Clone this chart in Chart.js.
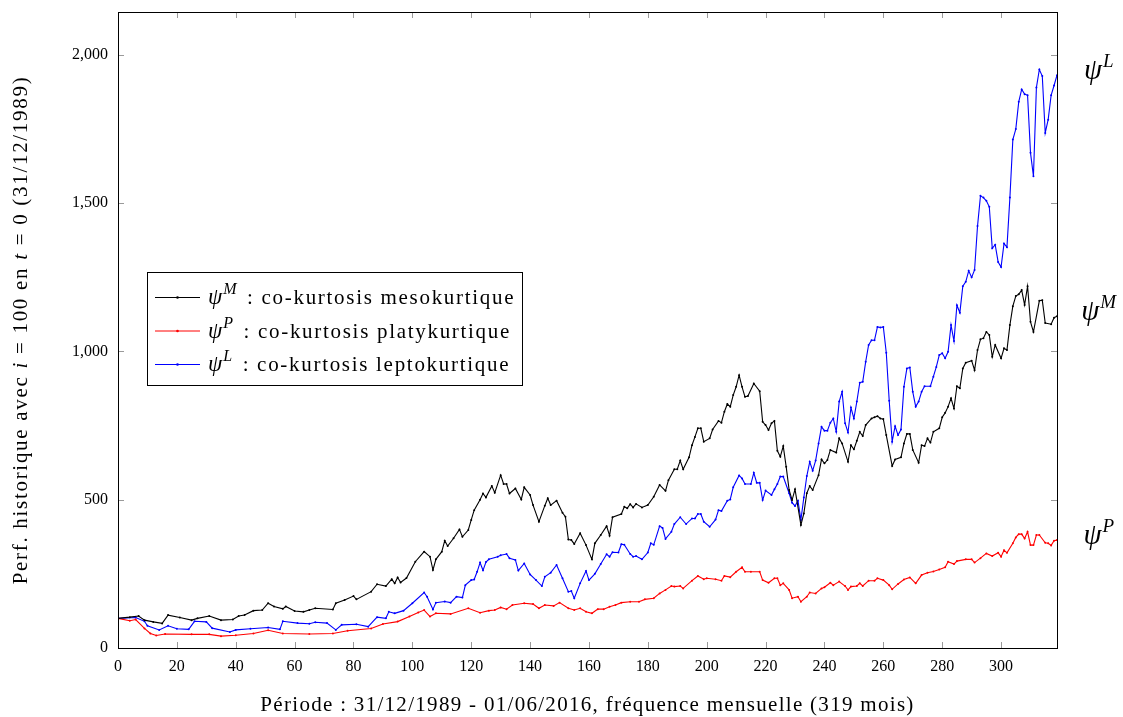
<!DOCTYPE html>
<html>
<head>
<meta charset="utf-8">
<script src="https://cdn.jsdelivr.net/npm/chart.js@4"></script>
<style>
  html, body { margin: 0; padding: 0; background: #fff; }
  #wrap { width: 1123px; height: 717px; }
</style>
</head>
<body>
<div id="wrap"><canvas id="perf"></canvas></div>
<script>
// 시리즈 데이터 (그림에서 읽은 값, 월 인덱스 / 성과 지수)
const mesoMonths = [0,4,7,9,12,15,17,21,25,27,31,35,39,41,43,46,49,51,53,56,57,60,63,65,67,73,74,77,80,81,86,88,91,93,94,95,96,98,101,104,106,107,108,110,111,112,114,116,117,119,120,121,123,124,125,127,128,130,131,132,133,135,137,138,140,141,143,145,146,147,149,151,152,153,154,155,157,159,161,162,164,166,167,168,171,172,173,174,175,176,178,180,182,184,186,187,189,190,191,192,194,195,196,197,198,199,201,202,204,205,206,207,208,209,210,211,212,213,214,216,218,219,220,221,222,223,224,225,226,227,228,229,230,232,233,234,235,236,238,239,240,241,242,244,245,246,248,249,250,251,252,253,254,256,257,258,259,260,261,263,264,266,267,268,269,270,272,273,274,275,276,277,279,280,281,282,283,284,285,286,287,288,290,291,292,293,294,295,296,297,298,300,301,302,303,304,305,306,307,308,309,310,311,313,314,315,317,318,319];
const mesoValues = [100,104,108,94,88,83,111,103,94,100,108,94,96,108,111,126,128,151,140,132,140,125,122,128,134,130,151,162,175,164,190,215,209,232,218,238,221,236,291,325,308,263,299,325,362,344,370,400,375,398,432,465,500,521,508,546,524,583,553,553,521,538,501,542,516,482,426,480,505,482,497,456,443,366,364,351,387,347,299,353,381,411,379,441,452,476,471,485,474,486,474,482,510,550,530,566,603,603,632,603,643,684,712,741,741,696,707,737,766,760,797,823,814,853,881,920,881,847,850,892,866,763,752,735,758,766,665,645,681,611,533,499,535,415,454,522,546,533,583,636,623,634,668,659,707,690,628,684,670,699,729,715,752,774,778,782,774,772,718,614,636,643,690,722,722,668,625,684,681,707,693,729,741,778,793,814,842,808,883,876,943,962,969,937,1005,1041,1045,1066,1056,982,1022,977,1011,1005,1089,1153,1187,1193,1207,1157,1220,1100,1066,1171,1173,1096,1092,1114,1119];

const platyMonths = [0,4,6,9,11,13,16,25,31,35,40,46,51,56,65,73,78,86,90,95,99,102,104,106,108,113,119,123,126,128,130,132,134,138,141,143,145,148,150,153,155,157,159,161,163,165,167,169,171,174,177,179,182,184,186,188,189,191,192,195,197,199,200,203,205,206,208,210,212,213,215,218,219,221,223,224,225,226,228,229,231,232,234,235,237,239,240,242,243,245,247,248,249,251,252,253,255,257,258,260,262,263,265,267,269,271,273,275,277,279,281,282,284,285,288,290,291,293,295,297,299,300,301,302,304,305,306,307,308,309,310,311,312,313,315,316,317,318,319];
const platyValues = [100,92,96,66,49,42,47,46,46,40,43,49,60,49,47,49,58,66,81,89,106,120,128,106,117,115,134,119,126,128,137,131,145,151,148,134,145,142,153,134,128,134,122,117,131,131,139,145,153,156,156,164,168,184,196,209,207,209,201,227,243,232,235,232,227,243,239,257,272,257,257,257,229,220,235,235,212,218,196,168,173,156,173,187,184,201,205,220,212,224,209,196,207,209,218,209,227,227,235,229,212,198,216,231,238,218,246,254,258,265,272,291,283,293,299,299,288,303,319,310,321,308,330,321,353,373,384,384,369,392,347,347,381,381,355,353,346,362,364];

const leptoMonths = [0,6,9,10,14,17,20,24,26,30,32,38,40,45,51,55,56,61,65,67,71,74,76,81,85,88,91,92,94,97,100,104,105,107,108,111,113,115,117,118,120,121,122,123,124,125,126,129,130,132,133,135,136,138,140,142,144,145,147,149,151,153,154,155,157,159,160,162,164,166,167,168,170,171,172,174,175,176,178,180,181,182,184,185,186,188,189,191,193,195,196,197,198,199,201,203,204,205,207,208,209,211,212,213,215,216,217,218,219,220,222,223,224,225,226,228,229,230,231,232,233,234,235,236,237,238,239,240,241,242,243,244,245,246,247,248,249,250,251,252,253,254,255,256,257,258,259,260,261,262,263,264,265,266,267,268,269,270,271,272,273,274,276,277,278,279,280,281,282,283,284,285,286,287,288,289,290,291,292,293,294,295,296,297,298,299,300,301,302,303,304,305,306,307,308,309,310,311,312,313,314,315,316,317,318,319];
const leptoValues = [100,103,90,75,61,75,65,63,90,88,67,54,61,65,69,63,90,84,82,87,84,61,78,80,72,104,100,122,117,126,151,187,173,130,153,157,153,173,170,212,229,231,257,288,262,290,299,308,313,317,303,297,261,285,248,229,209,240,254,280,235,190,192,168,218,260,229,250,283,316,308,323,322,350,348,317,308,310,299,322,353,348,411,405,368,392,418,441,418,437,437,452,452,426,409,433,465,462,497,501,542,582,572,553,553,591,557,557,499,531,516,535,553,578,578,522,490,479,497,432,508,580,628,598,632,690,746,733,733,760,774,729,831,864,758,727,811,774,831,895,898,965,1022,1038,1038,1083,1081,1083,996,834,696,748,718,737,881,943,946,864,814,831,864,883,883,915,948,988,994,977,999,1089,1035,1156,1131,1220,1235,1272,1250,1275,1423,1525,1519,1508,1488,1348,1360,1302,1285,1364,1352,1519,1715,1750,1842,1884,1868,1864,1670,1591,1890,1951,1929,1737,1782,1864,1897,1932];

// 축 눈금
const xTickValues = [0,20,40,60,80,100,120,140,160,180,200,220,240,260,280,300];
const yTickValues = [0,500,1000,1500,2000];

const legendLabels = [
  { sup: 'M', text: ' : co-kurtosis mesokurtique', color: '#000000' },
  { sup: 'P', text: ' : co-kurtosis platykurtique', color: '#ff0000' },
  { sup: 'L', text: ' : co-kurtosis leptokurtique', color: '#0000ff' },
];

const SERIF = '"Liberation Serif", "DejaVu Serif", serif';
const TEXT_SPACING = '1.3px'; // LaTeX 글꼴 폭에 맞추기 위한 자간

function toPoints(months, values) {
  return months.map((m, i) => ({ x: m, y: values[i] }));
}

function lineDataset(label, months, values, color) {
  return {
    label,
    data: toPoints(months, values),
    borderColor: color,
    backgroundColor: color,
    borderWidth: 1.1,
    pointRadius: 1,
    pointBorderWidth: 0,
    pointBackgroundColor: color,
    tension: 0,
  };
}

// 여러 글꼴이 섞인 텍스트 (수식 기호 이탤릭/위첨자)
function drawRuns(ctx, x, y, runs) {
  let cx = x;
  runs.forEach(r => {
    ctx.font = r.font;
    ctx.letterSpacing = r.ls || '0px';
    ctx.fillText(r.t, cx, y + (r.dy || 0));
    cx += ctx.measureText(r.t).width + (r.gap || 0);
  });
  ctx.letterSpacing = '0px';
  return cx;
}
function runsWidth(ctx, runs) {
  let w = 0;
  runs.forEach(r => {
    ctx.font = r.font;
    ctx.letterSpacing = r.ls || '0px';
    w += ctx.measureText(r.t).width + (r.gap || 0);
  });
  ctx.letterSpacing = '0px';
  return w;
}

const decorPlugin = {
  id: 'decor',
  afterDraw(chart) {
    const { ctx, chartArea: a, scales: { x, y } } = chart;
    ctx.save();

    // 안쪽 눈금 (네 변 모두)
    ctx.strokeStyle = '#9a9a9a';
    ctx.lineWidth = 1;
    const tl = 6;
    xTickValues.forEach(v => {
      const px = Math.round(x.getPixelForValue(v)) + 0.5;
      ctx.beginPath();
      ctx.moveTo(px, a.bottom); ctx.lineTo(px, a.bottom - tl);
      ctx.moveTo(px, a.top); ctx.lineTo(px, a.top + tl);
      ctx.stroke();
    });
    yTickValues.forEach(v => {
      const py = Math.round(y.getPixelForValue(v)) + 0.5;
      ctx.beginPath();
      ctx.moveTo(a.left, py); ctx.lineTo(a.left + tl, py);
      ctx.moveTo(a.right, py); ctx.lineTo(a.right - tl, py);
      ctx.stroke();
    });

    // 테두리
    ctx.strokeStyle = '#000';
    ctx.strokeRect(Math.round(a.left) + 0.5, Math.round(a.top) + 0.5,
      Math.round(a.right - a.left), Math.round(a.bottom - a.top));

    ctx.fillStyle = '#000';
    ctx.textBaseline = 'alphabetic';

    // 범례 상자
    const lx = 147, ly = 272, lw = 375, lh = 113;
    ctx.fillStyle = '#fff';
    ctx.fillRect(lx, ly, lw, lh);
    ctx.strokeStyle = '#000';
    ctx.strokeRect(lx + 0.5, ly + 0.5, lw, lh);
    legendLabels.forEach((item, i) => {
      const rowY = 297 + i * 33.5;
      ctx.strokeStyle = item.color;
      ctx.beginPath();
      ctx.moveTo(155, rowY + 0.5); ctx.lineTo(200, rowY + 0.5);
      ctx.stroke();
      ctx.fillStyle = item.color;
      ctx.beginPath(); ctx.arc(177.5, rowY + 0.5, 1.3, 0, Math.PI * 2); ctx.fill();
      ctx.fillStyle = '#000';
      drawRuns(ctx, 208, rowY + 7, [
        { t: 'ψ', font: `italic 23px ${SERIF}`, gap: 1 },
        { t: item.sup, font: `italic 16px ${SERIF}`, dy: -10, ls: '0.5px', gap: 3 },
        { t: item.text, font: `21px ${SERIF}`, ls: '1.7px' },
      ]);
    });

    // 오른쪽 시리즈 라벨 (마지막 값 위치)
    const ends = [
      { sup: 'L', v: leptoValues[leptoValues.length - 1] },
      { sup: 'M', v: mesoValues[mesoValues.length - 1] },
      { sup: 'P', v: platyValues[platyValues.length - 1] },
    ];
    ends.forEach(e => {
      const py = y.getPixelForValue(e.v);
      const runs = [
        { t: 'ψ', font: `italic 29px ${SERIF}`, gap: 1 },
        { t: e.sup, font: `italic 19px ${SERIF}`, dy: -12, ls: '0.5px' },
      ];
      const w = runsWidth(ctx, runs);
      drawRuns(ctx, 1099 - w / 2, py + 4, runs);
    });

    // x축 제목
    const xRuns = [{ t: 'Période : 31/12/1989 - 01/06/2016, fréquence mensuelle (319 mois)', font: `21px ${SERIF}`, ls: TEXT_SPACING }];
    const xw = runsWidth(ctx, xRuns);
    drawRuns(ctx, (a.left + a.right) / 2 - xw / 2, 711, xRuns);

    // y축 제목 (회전)
    const yls = '1.7px';
    const yRuns = [
      { t: 'Perf. historique avec ', font: `21px ${SERIF}`, ls: yls },
      { t: 'i', font: `italic 21px ${SERIF}`, ls: yls },
      { t: ' = 100 en ', font: `21px ${SERIF}`, ls: yls },
      { t: 't', font: `italic 21px ${SERIF}`, ls: yls },
      { t: ' = 0 (31/12/1989)', font: `21px ${SERIF}`, ls: yls },
    ];
    const yw = runsWidth(ctx, yRuns);
    ctx.translate(27, (a.top + a.bottom) / 2);
    ctx.rotate(-Math.PI / 2);
    drawRuns(ctx, -yw / 2, 0, yRuns);

    ctx.restore();
  },
};

new Chart(document.getElementById('perf'), {
  type: 'line',
  data: {
    datasets: [
      lineDataset('psiM', mesoMonths, mesoValues, '#000000'),
      lineDataset('psiP', platyMonths, platyValues, '#ff0000'),
      lineDataset('psiL', leptoMonths, leptoValues, '#0000ff'),
    ],
  },
  options: {
    responsive: true,
    maintainAspectRatio: false,
    animation: false,
    events: [],
    layout: { padding: { left: 0, right: 66, top: 12, bottom: 0 } },
    plugins: { legend: { display: false }, tooltip: { enabled: false } },
    scales: {
      x: {
        type: 'linear',
        min: 0,
        max: 319,
        afterBuildTicks: (s) => { s.ticks = xTickValues.map(v => ({ value: v })); },
        afterFit: (s) => { s.height = 69; s.paddingLeft = 0; s.paddingRight = 0; },
        grid: { display: false, drawTicks: false },
        border: { display: false },
        ticks: { color: '#000', padding: 9, maxRotation: 0, font: { family: SERIF, size: 16 } },
      },
      y: {
        type: 'linear',
        min: 0,
        max: 2145,
        afterBuildTicks: (s) => { s.ticks = yTickValues.map(v => ({ value: v })); },
        afterFit: (s) => { s.width = 118; s.paddingTop = 0; s.paddingBottom = 0; },
        grid: { display: false, drawTicks: false },
        border: { display: false },
        ticks: {
          color: '#000', padding: 10, font: { family: SERIF, size: 16 },
          callback: (v) => Number(v).toLocaleString('en-US'),
        },
      },
    },
  },
  plugins: [decorPlugin],
});
</script>
</body>
</html>
